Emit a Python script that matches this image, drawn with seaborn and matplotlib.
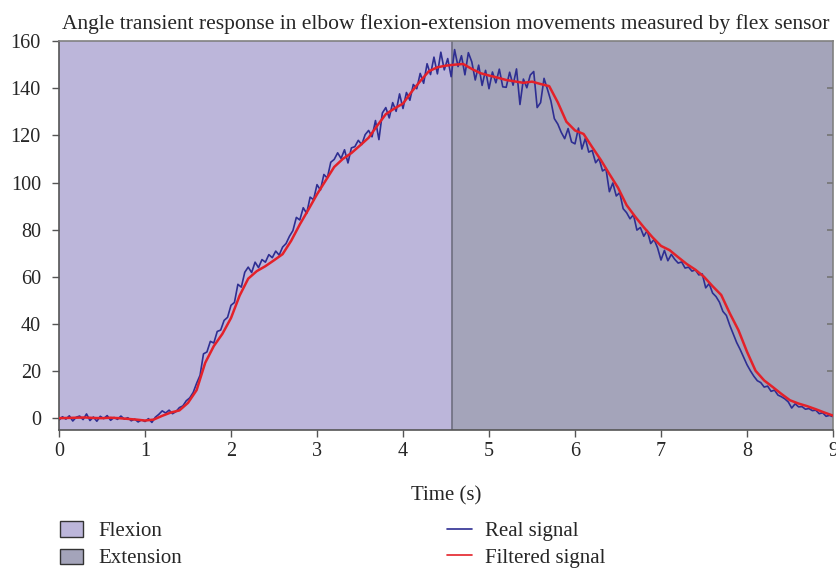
#!/usr/bin/env python3
import numpy as np
import pandas as pd
import matplotlib
matplotlib.use("Agg")
import matplotlib.pyplot as plt
from matplotlib.patches import Patch
from matplotlib.lines import Line2D
import seaborn as sns

title = "Angle transient response in elbow flexion-extension movements measured by flex sensor"
x_label = "Time (s)"
phase_names = ["Flexion", "Extension"]
phase_edges = [0.0, 4.57, 9.0]
phase_colors = ["#bcb6da", "#a4a4ba"]

# filtered signal, one value every 0.1 s from 0 to 9 s
filt_t0, filt_dt = 0.0, 0.1
filtered = [
    0.0, 0.1, 0.2, 0.3, 0.1, 0.0, 0.2, 0.0, -0.3, -0.6,
    -1.0, -0.6, 1.0, 2.4, 3.3, 6.5, 11.9, 23.5, 30.6, 35.8,
    42.5, 52.0, 59.2, 62.4, 64.5, 67.0, 69.6, 75.3, 82.2, 88.5,
    95.0, 100.8, 106.6, 110.0, 112.5, 115.7, 119.0, 124.1, 129.0, 131.4,
    133.5, 138.5, 143.0, 147.2, 148.9, 149.6, 150.0, 150.3, 148.2, 146.4,
    145.4, 144.5, 143.5, 142.9, 142.3, 142.8, 141.8, 140.9, 134.0, 125.8,
    122.1, 120.6, 115.0, 109.6, 103.6, 97.8, 90.4, 85.5, 81.0, 76.8,
    73.1, 71.3, 68.3, 65.4, 63.0, 60.0, 56.0, 52.3, 44.5, 37.4,
    28.2, 20.1, 16.0, 13.2, 10.3, 7.6, 6.2, 5.1, 3.8, 2.4,
    1.1,
]

# raw sensor signal, one value every 0.04 s from 0 to 9 s
real_t0, real_dt = 0.0, 0.04
real = [
    -0.8, 0.6, -0.4, 1.0, -1.2, 0.4, 0.9, -0.6, 1.8, -1.0,
    0.5, -1.3, 0.8, -0.2, 1.1, -0.9, 0.3, -0.5, 0.9, -0.4,
    0.2, -1.1, -0.4, -1.6, -0.7, -1.4, -0.2, -1.8, 0.4, 1.6,
    3.1, 2.2, 3.4, 1.9, 2.8, 4.5, 5.2, 7.4, 8.6, 10.9,
    14.8, 18.2, 27.3, 28.1, 32.6, 31.9, 36.8, 37.4, 41.5, 42.8,
    47.9, 49.1, 56.8, 55.6, 61.9, 64.1, 61.8, 66.2, 63.9, 67.3,
    66.2, 69.4, 68.1, 70.9, 69.2, 72.6, 74.1, 77.2, 79.6, 85.2,
    84.1, 89.3, 86.9, 93.8, 92.7, 99.1, 96.8, 103.4, 101.9, 108.6,
    109.8, 112.6, 110.2, 113.9, 108.3, 114.7, 115.2, 117.9, 116.1, 120.3,
    122.1, 119.4, 126.3, 118.2, 129.5, 131.8, 127.4, 133.9, 130.2, 137.6,
    131.4, 138.2, 134.9, 141.6, 139.8, 146.3, 142.1, 150.4, 145.8, 153.2,
    146.1, 155.3, 147.8, 152.6, 144.9, 156.4, 149.2, 153.8, 145.7, 155.1,
    151.2, 143.5, 149.8, 141.2, 147.6, 139.8, 146.9, 142.3, 148.1, 140.6,
    140.4, 146.8, 141.3, 148.2, 133.1, 143.9, 140.2, 145.6, 147.1, 131.8,
    133.9, 144.2, 139.5, 134.6, 127.1, 124.8, 121.3, 118.6, 122.9, 117.2,
    116.4, 123.1, 114.2, 118.7, 112.9, 113.6, 108.4, 110.2, 104.9, 105.8,
    96.1, 99.8, 94.3, 95.7, 88.9, 87.2, 84.6, 86.3, 79.8, 80.9,
    77.2, 79.6, 74.1, 75.8, 72.3, 67.1, 71.2, 66.8, 69.5, 67.4,
    65.8, 66.3, 63.7, 64.1, 62.4, 62.9, 60.8, 61.2, 55.3, 57.1,
    53.1, 51.6, 49.2, 45.3, 43.6, 39.4, 35.8, 32.1, 29.2, 25.9,
    22.7, 20.1, 17.8, 15.9, 15.1, 13.2, 13.6, 11.4, 11.9, 9.8,
    9.1, 8.2, 6.9, 4.3, 6.1, 4.8, 4.9, 3.8, 4.1, 3.2,
    3.4, 1.9, 2.3, 0.8, 1.2, 0.6,
]

real_color = "#2e2e92"
filt_color = "#e42129"

sns.set_theme(style="ticks")
plt.rcParams["font.family"] = ["Liberation Serif", "DejaVu Serif"]

df_real = pd.DataFrame({"t": real_t0 + real_dt * np.arange(len(real)), "v": real})
df_filt = pd.DataFrame({"t": filt_t0 + filt_dt * np.arange(len(filtered)), "v": filtered})

fig = plt.figure(figsize=(8.37, 5.71), dpi=100)
ax = fig.add_axes([0.0705, 0.247, 0.9247, 0.681])

for i in range(len(phase_names)):
    ax.axvspan(phase_edges[i], phase_edges[i + 1], color=phase_colors[i], lw=0, zorder=0)
ax.axvline(phase_edges[1], color="#6e6e80", lw=1.2, zorder=1)

sns.lineplot(data=df_real, x="t", y="v", ax=ax, color=real_color, lw=1.2, zorder=2)
sns.lineplot(data=df_filt, x="t", y="v", ax=ax, color=filt_color, lw=1.8, zorder=3)

ax.set_xlim(0, 9)
ax.set_ylim(-5, 160)
ax.set_xticks(range(0, 10))
ax.set_yticks(range(0, 161, 20))
ax.set_xlabel(x_label, fontsize=15, labelpad=18)
ax.set_ylabel("")
ax.set_title(title, fontsize=15.5, pad=9)
ax.tick_params(axis="both", labelsize=14.5, length=5, width=1, color="#555555")
ax.tick_params(axis="y", pad=8)
for side in ["left", "bottom"]:
    ax.spines[side].set_color("#555555")
    ax.spines[side].set_linewidth(1.2)
for side in ["top", "right"]:
    ax.spines[side].set_visible(True)
    ax.spines[side].set_color("#808080")
    ax.spines[side].set_linewidth(1.2)

# small inward ticks on the right edge
ax2 = ax.twinx()
ax2.set_ylim(ax.get_ylim())
ax2.set_yticks(range(20, 141, 20))
ax2.tick_params(axis="y", direction="in", length=4, color="#777777", labelright=False)
for side in ax2.spines:
    ax2.spines[side].set_visible(False)

phase_handles = [Patch(facecolor=c, edgecolor="#333333", lw=1.0) for c in phase_colors]
fig.legend(phase_handles, phase_names, loc="upper left", bbox_to_anchor=(0.0717, 0.087),
           frameon=False, fontsize=15, handlelength=1.1, handleheight=0.75,
           labelspacing=0.35, handletextpad=0.72, borderaxespad=0, borderpad=0)
line_handles = [Line2D([], [], color=real_color, lw=1.2), Line2D([], [], color=filt_color, lw=1.2)]
fig.legend(line_handles, ["Real signal", "Filtered signal"], loc="upper left",
           bbox_to_anchor=(0.534, 0.087), frameon=False, fontsize=15,
           handlelength=1.2, labelspacing=0.35, handletextpad=0.63,
           borderaxespad=0, borderpad=0)

fig.savefig("out.png", dpi=100)
